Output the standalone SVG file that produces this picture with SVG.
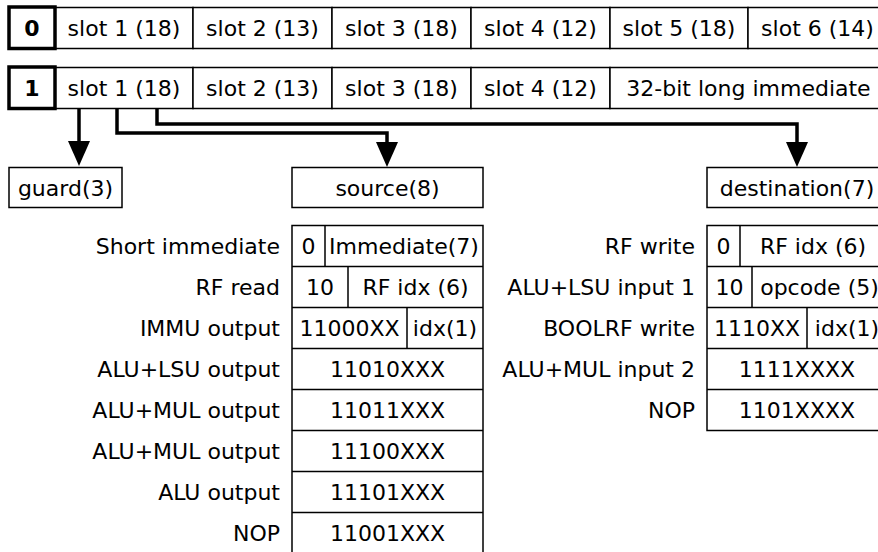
<svg xmlns="http://www.w3.org/2000/svg" width="878" height="552" viewBox="0 0 878 552">
<style>
text{font-family:"DejaVu Sans","Liberation Sans",sans-serif;font-size:22px;fill:#000}
.c{text-anchor:middle}
.r{text-anchor:end}
.cell{fill:#fff;stroke:#000;stroke-width:1.5}
.thick{fill:#fff;stroke:#000;stroke-width:3.5}
.ln{fill:none;stroke:#000;stroke-width:1.5}
.conn{fill:none;stroke:#000;stroke-width:3.5;marker-end:url(#ah)}
</style>
<defs>
<marker id="ah" markerUnits="userSpaceOnUse" markerWidth="26" markerHeight="24" viewBox="0 0 26 24" refX="0" refY="12" orient="auto">
<path d="M0,1 L25,12 L0,23 z" fill="#000"/>
</marker>
</defs>
<rect width="878" height="552" fill="#fff"/>

<g id="row0">
<rect class="cell" x="55" y="7.5" width="138" height="41"/>
<rect class="cell" x="193" y="7.5" width="139" height="41"/>
<rect class="cell" x="332" y="7.5" width="139" height="41"/>
<rect class="cell" x="471" y="7.5" width="139" height="41"/>
<rect class="cell" x="610" y="7.5" width="138" height="41"/>
<rect class="cell" x="748" y="7.5" width="139" height="41"/>
<rect class="thick" x="9" y="7" width="46" height="41.5"/>
<text class="c" x="32" y="36" font-weight="bold">0</text>
<text class="c" x="124" y="36">slot 1 (18)</text>
<text class="c" x="262.5" y="36">slot 2 (13)</text>
<text class="c" x="401.5" y="36">slot 3 (18)</text>
<text class="c" x="540.5" y="36">slot 4 (12)</text>
<text class="c" x="679" y="36">slot 5 (18)</text>
<text class="c" x="817.5" y="36">slot 6 (14)</text>
</g>

<g id="row1">
<rect class="cell" x="55" y="67.5" width="138" height="41"/>
<rect class="cell" x="193" y="67.5" width="139" height="41"/>
<rect class="cell" x="332" y="67.5" width="139" height="41"/>
<rect class="cell" x="471" y="67.5" width="139" height="41"/>
<rect class="cell" x="610" y="67.5" width="277" height="41"/>
<rect class="thick" x="9" y="67" width="46" height="41.5"/>
<text class="c" x="32" y="96" font-weight="bold">1</text>
<text class="c" x="124" y="96">slot 1 (18)</text>
<text class="c" x="262.5" y="96">slot 2 (13)</text>
<text class="c" x="401.5" y="96">slot 3 (18)</text>
<text class="c" x="540.5" y="96">slot 4 (12)</text>
<text class="c" x="748.5" y="96">32-bit long immediate</text>
</g>

<g id="connectors">
<path class="conn" d="M79,108 V141"/>
<path class="conn" d="M117,108 V133 H387 V142"/>
<path class="conn" d="M157,108 V124 H797 V142"/>
</g>

<g id="guard">
<rect class="cell" x="9" y="167.5" width="113" height="40"/>
<text class="c" x="65.5" y="195.5">guard(3)</text>
</g>

<g id="source">
<rect class="cell" x="292" y="167.5" width="191" height="40"/>
<text class="c" x="387.5" y="195.5">source(8)</text>
</g>

<g id="destination">
<rect class="cell" x="707" y="167.5" width="180" height="40"/>
<text class="c" x="797" y="195.5">destination(7)</text>
</g>

<g id="source-table">
<rect class="cell" x="292" y="225.5" width="191" height="340"/>
<path class="ln" d="M292,266.5 H483 M292,307.5 H483 M292,348.5 H483 M292,389.5 H483 M292,430.5 H483 M292,471.5 H483 M292,512.5 H483"/>
<path class="ln" d="M325,225.5 V266.5 M348,266.5 V307.5 M407,307.5 V348.5"/>
<text class="r" x="280" y="254">Short immediate</text>
<text class="r" x="280" y="295">RF read</text>
<text class="r" x="280" y="336">IMMU output</text>
<text class="r" x="280" y="377">ALU+LSU output</text>
<text class="r" x="280" y="418">ALU+MUL output</text>
<text class="r" x="280" y="459">ALU+MUL output</text>
<text class="r" x="280" y="500">ALU output</text>
<text class="r" x="280" y="541">NOP</text>
<text class="c" x="308.5" y="254">0</text>
<text class="c" x="404" y="254">Immediate(7)</text>
<text class="c" x="320" y="295">10</text>
<text class="c" x="415.5" y="295">RF idx (6)</text>
<text class="c" x="349.5" y="336">11000XX</text>
<text class="c" x="445" y="336">idx(1)</text>
<text class="c" x="387.5" y="377">11010XXX</text>
<text class="c" x="387.5" y="418">11011XXX</text>
<text class="c" x="387.5" y="459">11100XXX</text>
<text class="c" x="387.5" y="500">11101XXX</text>
<text class="c" x="387.5" y="541">11001XXX</text>
</g>

<g id="destination-table">
<rect class="cell" x="707" y="225.5" width="180" height="205"/>
<path class="ln" d="M707,266.5 H887 M707,307.5 H887 M707,348.5 H887 M707,389.5 H887"/>
<path class="ln" d="M740,225.5 V266.5 M752,266.5 V307.5 M807,307.5 V348.5"/>
<text class="r" x="695" y="254">RF write</text>
<text class="r" x="695" y="295">ALU+LSU input 1</text>
<text class="r" x="695" y="336">BOOLRF write</text>
<text class="r" x="695" y="377">ALU+MUL input 2</text>
<text class="r" x="695" y="418">NOP</text>
<text class="c" x="723.5" y="254">0</text>
<text class="c" x="813" y="254">RF idx (6)</text>
<text class="c" x="729.5" y="295">10</text>
<text class="c" x="819.5" y="295">opcode (5)</text>
<text class="c" x="757" y="336">1110XX</text>
<text class="c" x="847" y="336">idx(1)</text>
<text class="c" x="797" y="377">1111XXXX</text>
<text class="c" x="797" y="418">1101XXXX</text>
</g>
</svg>
